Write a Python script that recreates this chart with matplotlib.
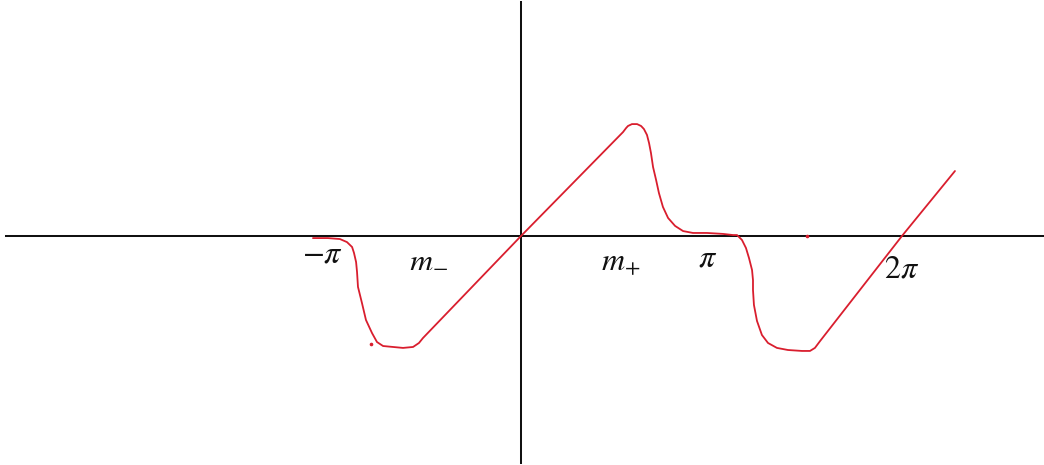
import numpy as np
import matplotlib
matplotlib.use("Agg")
import matplotlib.pyplot as plt

plt.rcParams["mathtext.fontset"] = "stix"

# ============================================================
# DATA  (x and y in units of pi)
# ============================================================

curve_x = [-1.095, -1.016, -0.953, -0.916, -0.889, -0.879, -0.868, -0.863,
           -0.858, -0.837, -0.816, -0.784, -0.758, -0.726, -0.674, -0.621,
           -0.568, -0.537, -0.516, 0.000, 0.537, 0.553, 0.563, 0.584,
           0.611, 0.632, 0.647, 0.663, 0.674, 0.684, 0.695, 0.711,
           0.726, 0.747, 0.774, 0.811, 0.853, 0.905, 0.979, 1.063,
           1.116, 1.137, 1.163, 1.184, 1.200, 1.216, 1.221, 1.221,
           1.226, 1.242, 1.268, 1.300, 1.347, 1.405, 1.479, 1.521,
           1.547, 1.574, 2.005, 2.284]
curve_y = [-0.011, -0.011, -0.016, -0.032, -0.058, -0.089, -0.137, -0.189,
           -0.268, -0.353, -0.442, -0.511, -0.558, -0.579, -0.584, -0.589,
           -0.584, -0.563, -0.537, 0.000, 0.547, 0.568, 0.579, 0.589,
           0.589, 0.579, 0.563, 0.532, 0.489, 0.437, 0.363, 0.295,
           0.226, 0.153, 0.095, 0.053, 0.026, 0.016, 0.016, 0.011,
           0.005, 0.005, -0.021, -0.063, -0.116, -0.179, -0.232, -0.284,
           -0.363, -0.447, -0.521, -0.563, -0.589, -0.600, -0.605, -0.605,
           -0.589, -0.553, 0.000, 0.342]

# stray pen dots
dots_x = [-0.789, 1.505]
dots_y = [-0.568, 0.000]

label_text = [r"$-\pi$", r"$m_{-}$", r"$m_{+}$", r"$\pi$", r"$2\pi$"]
label_x    = [-1.047, -0.489, 0.526, 0.984, 2.005]
label_y    = [-0.142, -0.163, -0.179, -0.163, -0.216]

RED = "#d91e2e"

# ============================================================
# FIGURE
# ============================================================

fig = plt.figure(figsize=(10.44, 4.65), dpi=100)
fig.patch.set_facecolor("white")
ax = fig.add_axes([0, 0, 1, 1])
ax.set_xlim(-521 / 190, 523 / 190)
ax.set_ylim(-229 / 190, 236 / 190)
ax.axis("off")

# axes drawn by hand
ax.axhline(0, xmin=0.006, xmax=0.999, color="#111111", lw=1.45, zorder=1)
ax.axvline(0, ymin=0.004, ymax=0.996, color="#111111", lw=1.45, zorder=1)

ax.plot(curve_x, curve_y, color=RED, lw=1.3, zorder=2,
        solid_capstyle="round", solid_joinstyle="round")
ax.plot(dots_x, dots_y, "o", color=RED, ms=1.6, zorder=2)

for t, x, y in zip(label_text, label_x, label_y):
    ax.text(x, y, t, ha="center", va="baseline", fontsize=23, color="#111111")

plt.savefig("out.png", dpi=100)
